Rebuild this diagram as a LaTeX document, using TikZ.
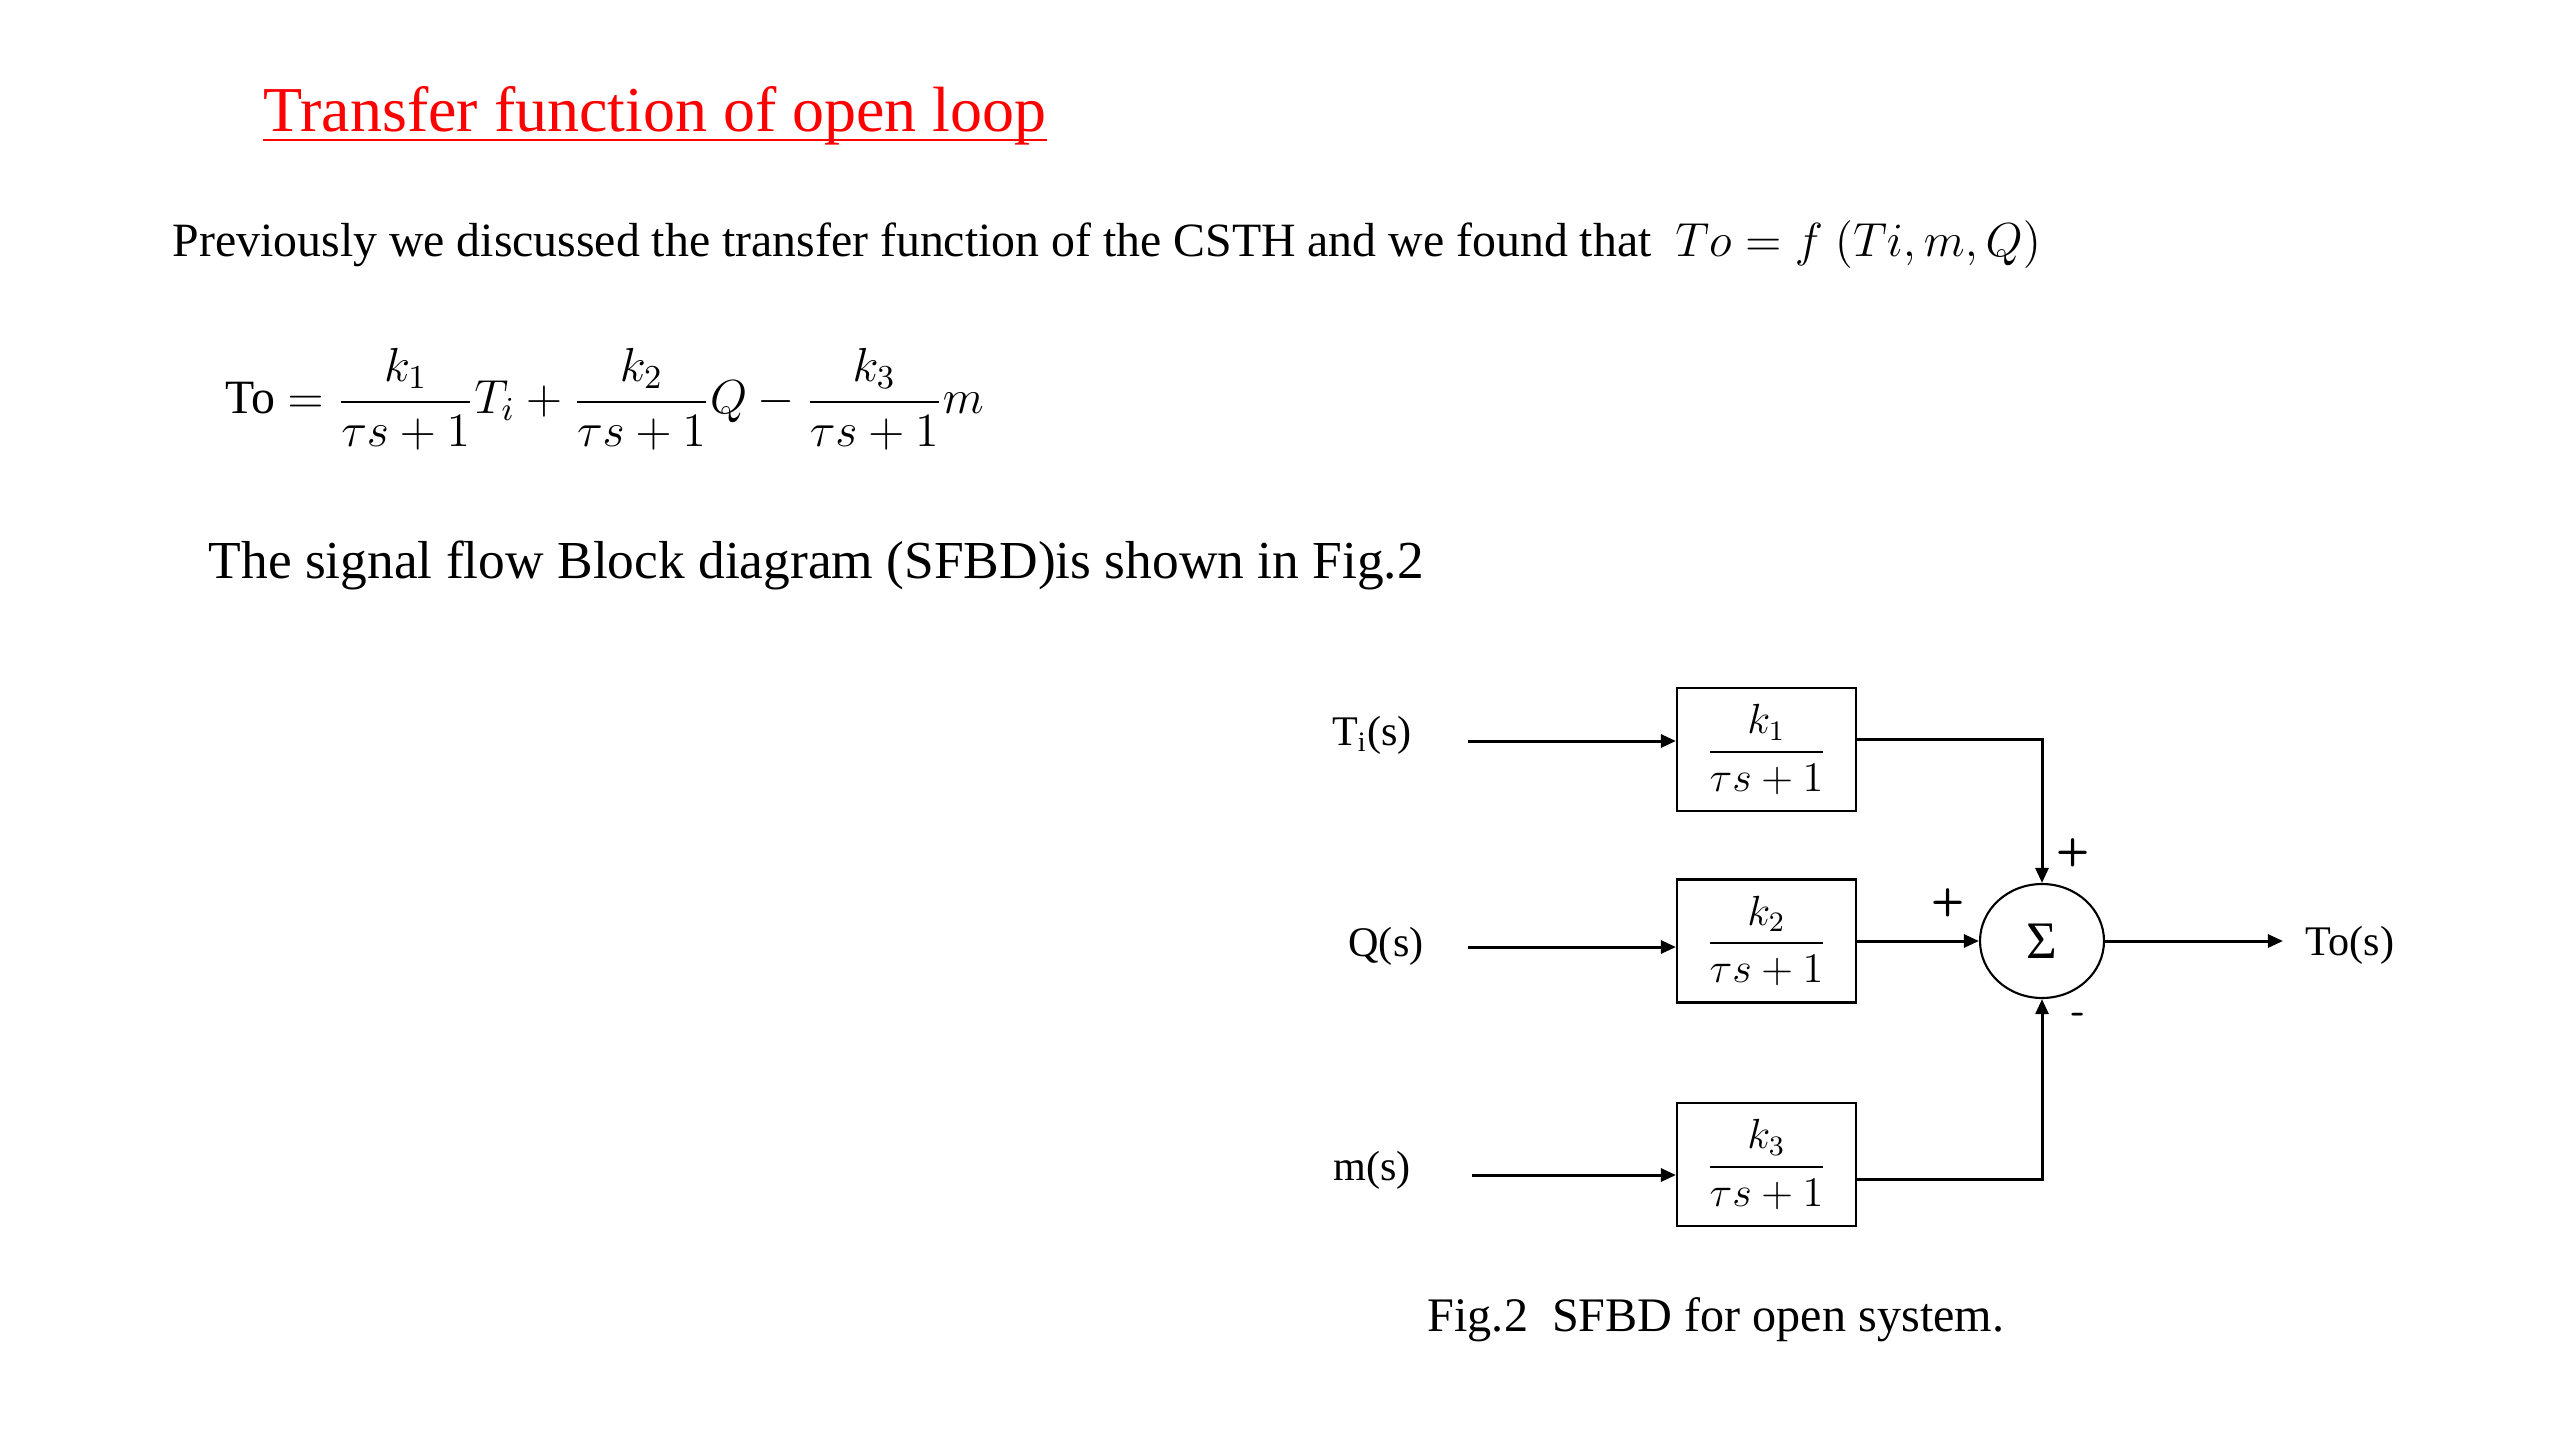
\RequirePackage{fix-cm}
\documentclass[tikz,border=0pt]{standalone}
\usepackage{amsmath}
\usepackage{amssymb}
\usepackage{fontspec}
\setmainfont{Liberation Serif}
\usetikzlibrary{arrows.meta,shapes.geometric}

\begin{document}
\begin{tikzpicture}[
  blk/.style={draw,line width=0.6pt,minimum width=1.79cm,minimum height=1.23cm,inner sep=0pt,font=\fontsize{12}{15}\selectfont},
  sig/.style={line width=0.85pt,-{Triangle[length=4.3pt,width=3.7pt]}},
  lbl/.style={inner sep=0pt,font=\fontsize{12}{14}\selectfont},
  sgn/.style={inner sep=0pt,font=\sffamily\bfseries\fontsize{11}{13}\selectfont}]
  \useasboundingbox (0,0) rectangle (25.6,-14.4);
  \node[anchor=base west,inner sep=0pt,text=red,font=\fontsize{18.2}{22}\selectfont] (title) at (2.63,-1.31) {Transfer function of open loop};
  \draw[red,line width=0.7pt] ([yshift=-2.6pt]title.base west) -- ([yshift=-2.6pt]title.base east);
  \node[anchor=base west,inner sep=0pt,font=\fontsize{13.6}{16}\selectfont] (prev) at (1.72,-2.56) {Previously we discussed the transfer function of the CSTH and we found that\ \ $To = f\ (Ti, m, Q)$};
  \node[anchor=west,inner sep=0pt,font=\fontsize{13.6}{16}\selectfont] (eq) at (2.25,-3.99) {To $= \dfrac{k_1}{\tau s+1}T_i + \dfrac{k_2}{\tau s+1}Q - \dfrac{k_3}{\tau s+1}m$};
  \node[anchor=base west,inner sep=0pt,font=\fontsize{15.2}{18}\selectfont] (sfbd) at (2.08,-5.78) {The signal flow Block diagram (SFBD)is shown in Fig.2};

  \node[lbl] (ti) at (13.72,-7.35) {T\textsubscript{i}(s)};
  \node[lbl] (q) at (13.86,-9.46) {Q(s)};
  \node[lbl] (m) at (13.72,-11.70) {m(s)};
  \node[lbl,anchor=west] (to) at (23.05,-9.45) {To(s)};
  \coordinate (tiin) at (14.68,-7.41);
  \coordinate (qin) at (14.68,-9.47);
  \coordinate (min) at (14.72,-11.75);
  \coordinate (toout) at (22.83,-9.41);

  \node[blk] (b1) at (17.665,-7.495) {$\dfrac{k_1}{\tau s+1}$};
  \node[blk] (b2) at (17.665,-9.41) {$\dfrac{k_2}{\tau s+1}$};
  \node[blk] (b3) at (17.665,-11.645) {$\dfrac{k_3}{\tau s+1}$};
  \node[draw,ellipse,line width=0.6pt,minimum width=1.24cm,minimum height=1.14cm,inner sep=0pt,font=\fontsize{15}{17}\selectfont] (sum) at (20.42,-9.41) {Σ};

  \draw[sig] (tiin) -- (tiin -| b1.west);
  \draw[sig] (qin) -- (qin -| b2.west);
  \draw[sig] (min) -- (min -| b3.west);
  \draw[sig] ([yshift=0.1cm]b1.east) -| (sum.north);
  \draw[sig] (b2.east) -- (sum.west);
  \draw[sig] ([yshift=-0.15cm]b3.east) -| (sum.south);
  \draw[sig] (sum.east) -- (toout);
  \node[sgn] (p1) at (20.73,-8.53) {+};
  \node[sgn] (p2) at (19.48,-9.03) {+};
  \node[sgn] (n3) at (20.79,-10.18) {-};

  \node[inner sep=0pt,font=\fontsize{13.7}{16}\selectfont] (cap) at (17.16,-13.20) {Fig.2\ \ SFBD for open system.};
\end{tikzpicture}
\end{document}
